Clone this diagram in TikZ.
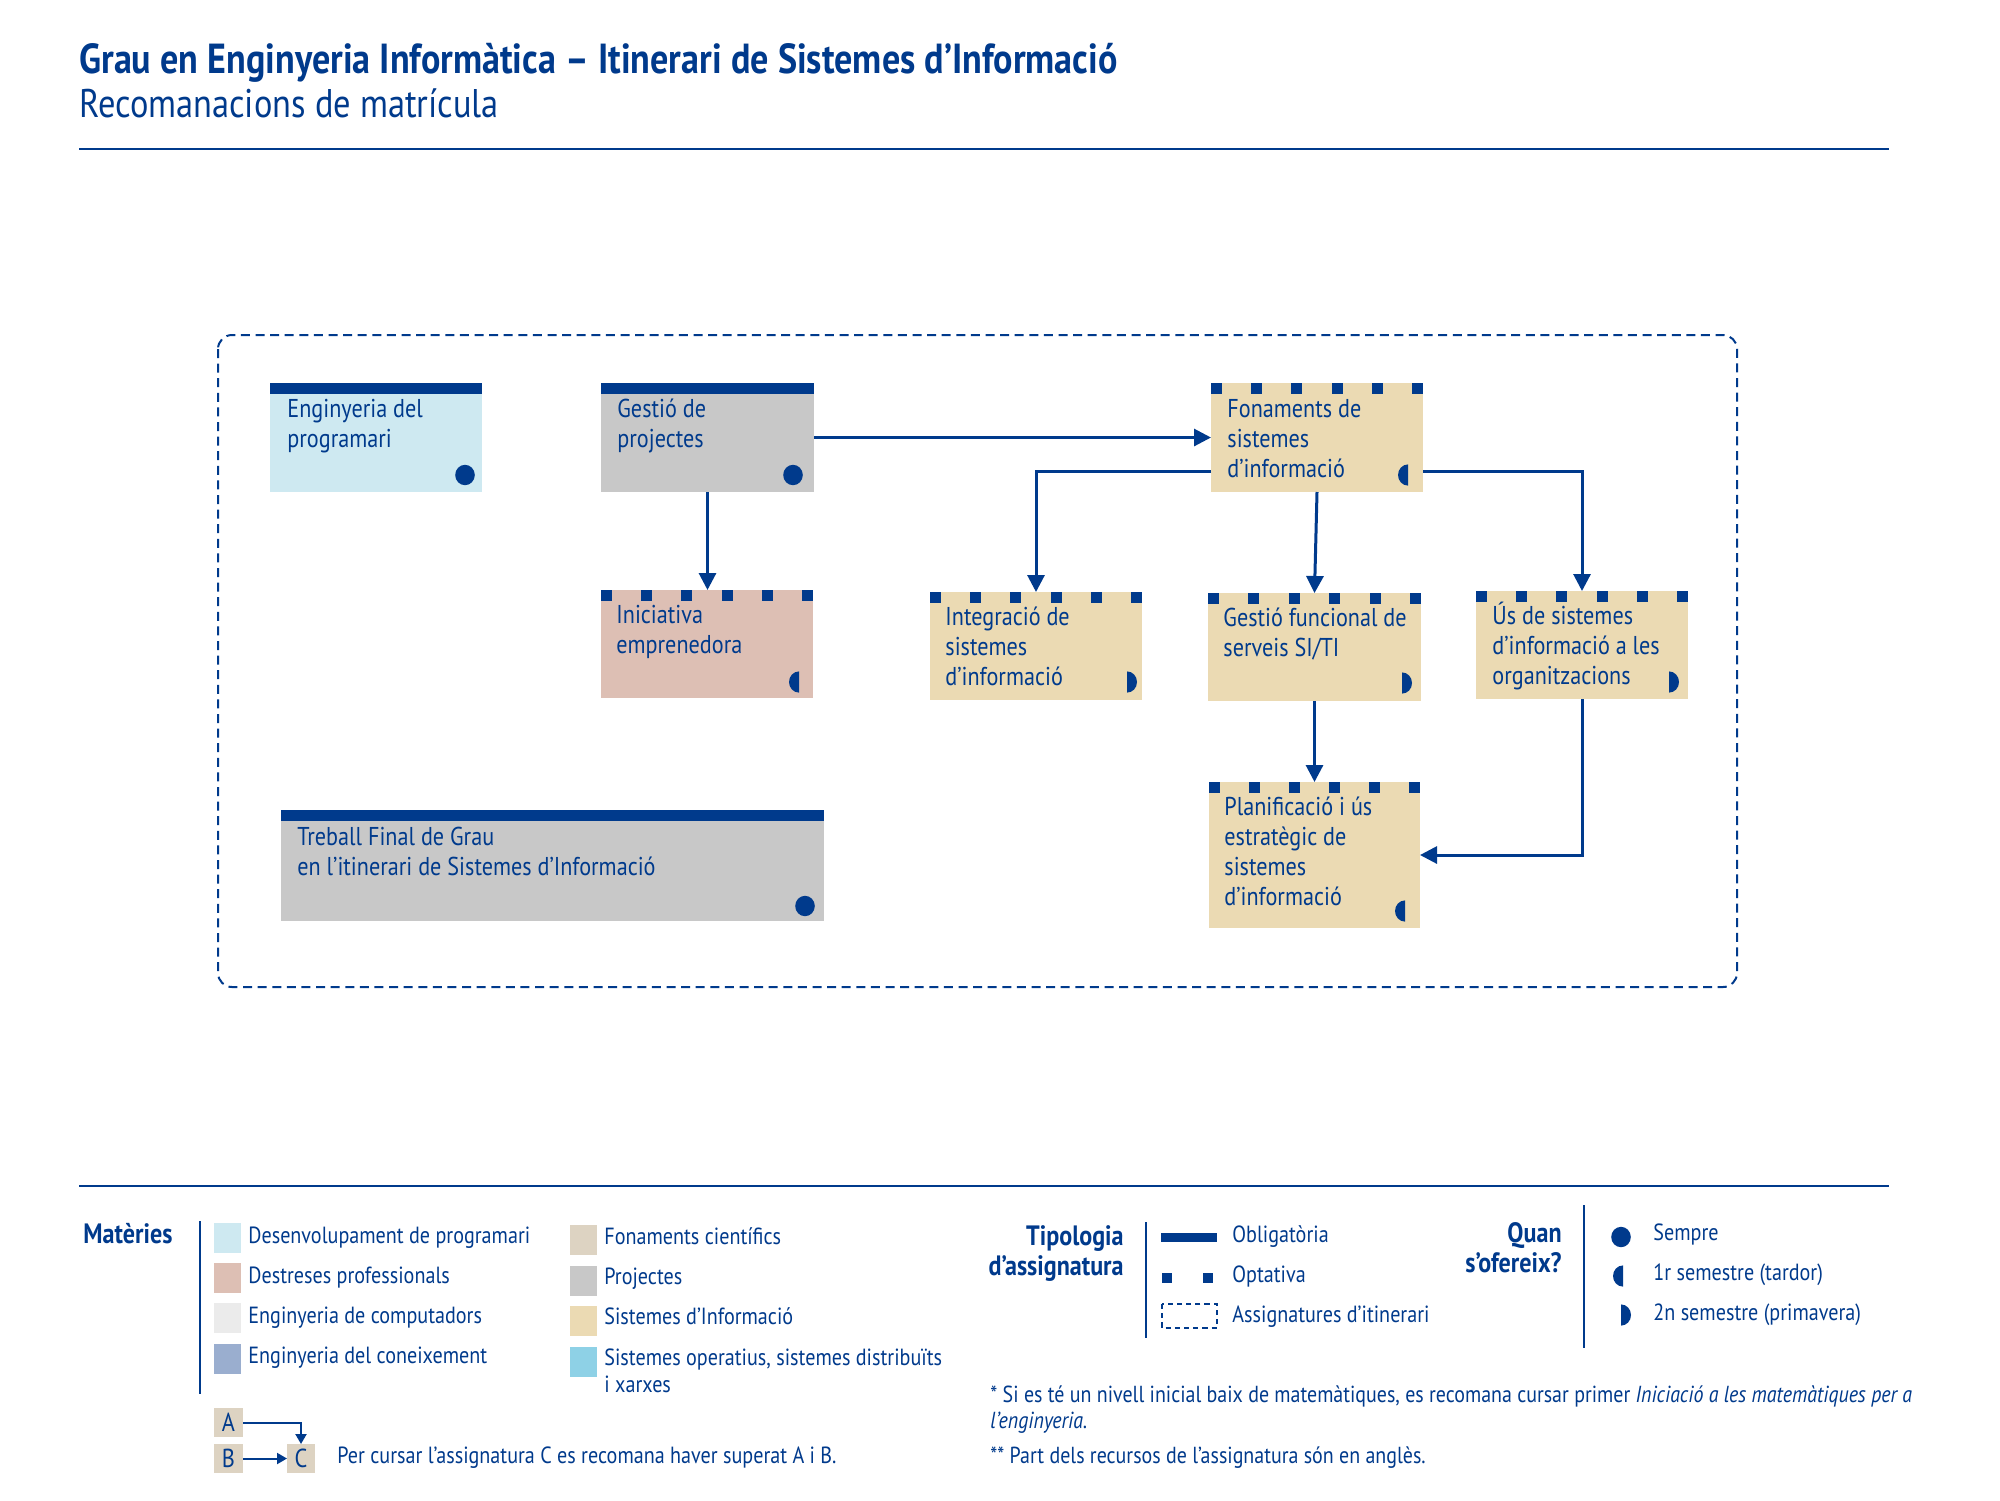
\documentclass[tikz,border=0pt]{standalone}
\usepackage{fontspec}
\setmainfont{PT Sans}[FakeStretch=0.86]
\usetikzlibrary{arrows.meta,calc}
\definecolor{uoc}{RGB}{0,58,140}
\definecolor{cDes}{HTML}{CEE9F1}
\definecolor{cPro}{HTML}{C8C8C8}
\definecolor{cSI}{HTML}{EBDAB3}
\definecolor{cDest}{HTML}{DDBFB4}
\definecolor{cComp}{HTML}{EBEBEB}
\definecolor{cCon}{HTML}{9AAECF}
\definecolor{cFon}{HTML}{DDD3C2}
\definecolor{cSO}{HTML}{8ED1E6}
\tikzset{
  subj/.style={anchor=north west, inner sep=0pt, outer sep=0pt},
  stxt/.style={anchor=base west, inner sep=0pt, text=uoc, font=\fontsize{12.9}{15}\selectfont},
  ltxt/.style={anchor=base west, inner sep=0pt, text=uoc, font=\fontsize{11.7}{13.5}\selectfont},
  lhead/.style={anchor=base east, inner sep=0pt, text=uoc, font=\fontsize{14}{15}\selectfont\bfseries},
  legsq/.style={anchor=north west, inner sep=0pt, outer sep=0pt, minimum width=13.5pt, minimum height=15pt},
  arr/.style={draw=uoc, line width=1.5pt, -{Triangle[length=8.5pt,width=8.5pt]}},
  sarr/.style={draw=uoc, line width=1pt, -{Triangle[length=5pt,width=5.5pt]}},
  rulel/.style={draw=uoc, line width=1.4pt},
  vline/.style={draw=uoc, line width=1pt}
}
\newcommand\mksem[2]{\fill[uoc] (#1,#2) ellipse[x radius=4.9pt,y radius=5.1pt];}
\newcommand\mkone[2]{\fill[uoc] (#1,#2) ++(0,-10.6) arc[start angle=90,end angle=270,x radius=5pt,y radius=5.3pt] -- cycle;}
\newcommand\mktwo[2]{\fill[uoc] (#1,#2) ++(0,-10.6) arc[start angle=90,end angle=-90,x radius=5pt,y radius=5.3pt] -- cycle;}
\newcommand\optbar[3]{\foreach \i in {0,...,5}{\fill[uoc] ({#1+\i*(#3-11)/5},#2) rectangle ++(11,11);}}
\newcommand\oblbar[1]{\fill[uoc] (#1.north west) rectangle ($(#1.north east)+(0,11)$);}
\begin{document}
\begin{tikzpicture}[x=0.5pt,y=-0.5pt]
\useasboundingbox[fill=white] (0,0) rectangle (2000,1500);

% title
\node[anchor=base west, inner sep=0pt, text=uoc, font=\fontsize{21}{24}\selectfont\bfseries] (title) at (79,73) {Grau en Enginyeria Informàtica – Itinerari de Sistemes d’Informació};
\node[anchor=base west, inner sep=0pt, text=uoc, font=\fontsize{20}{24}\selectfont] (subtitle) at (79,117) {Recomanacions de matrícula};
\draw[rulel] (79,149) -- (1889,149);

% itinerary frame
\draw[uoc, line width=1pt, dash pattern=on 4.5pt off 2.8pt, rounded corners=7pt] (218,335) rectangle (1737,987);

% subject boxes
\node[subj, fill=cDes, minimum width=106pt, minimum height=54.5pt] (eng) at (270,383) {};
\node[subj, fill=cPro, minimum width=106.5pt, minimum height=54.5pt] (gp) at (601,383) {};
\node[subj, fill=cSI, minimum width=106pt, minimum height=54.5pt] (fon) at (1211,383) {};
\node[subj, fill=cDest, minimum width=106pt, minimum height=54pt] (ini) at (601,590) {};
\node[subj, fill=cSI, minimum width=106pt, minimum height=54pt] (int) at (930,592) {};
\node[subj, fill=cSI, minimum width=106.5pt, minimum height=54pt] (gfs) at (1208,593) {};
\node[subj, fill=cSI, minimum width=106pt, minimum height=54pt] (us) at (1476,591) {};
\node[subj, fill=cSI, minimum width=105.5pt, minimum height=73pt] (plan) at (1209,782) {};
\node[subj, fill=cPro, minimum width=271.5pt, minimum height=55.5pt] (tfg) at (281,810) {};

\oblbar{eng}
\oblbar{gp}
\oblbar{tfg}
\optbar{1211}{383}{212}
\optbar{601}{590}{212}
\optbar{930}{592}{212}
\optbar{1208}{593}{213}
\optbar{1476}{591}{212}
\optbar{1209}{782}{211}

% texts
\node[stxt] (teng) at ($(eng.north west)+(17,34)$) {\parbox[t]{100pt}{Enginyeria del\\programari}};
\node[stxt] (tgp) at ($(gp.north west)+(16,34)$) {\parbox[t]{100pt}{Gestió de\\projectes}};
\node[stxt] (tfon) at ($(fon.north west)+(16,34)$) {\parbox[t]{100pt}{Fonaments de\\sistemes\\d’informació}};
\node[stxt] (tini) at ($(ini.north west)+(15,33)$) {\parbox[t]{100pt}{Iniciativa\\emprenedora}};
\node[stxt] (tint) at ($(int.north west)+(15,33)$) {\parbox[t]{100pt}{Integració de\\sistemes\\d’informació}};
\node[stxt] (tgfs) at ($(gfs.north west)+(15,33)$) {\parbox[t]{100pt}{Gestió funcional de\\serveis SI/TI}};
\node[stxt] (tus) at ($(us.north west)+(16,33)$) {\parbox[t]{100pt}{Ús de sistemes\\d’informació a les\\organitzacions}};
\node[stxt] (tplan) at ($(plan.north west)+(15,33)$) {\parbox[t]{100pt}{Planificació i ús\\estratègic de\\sistemes\\d’informació}};
\node[stxt] (ttfg) at ($(tfg.north west)+(16,35)$) {\parbox[t]{250pt}{Treball Final de Grau\\en l’itinerari de Sistemes d’Informació}};

% semester markers
\mksem{465}{475}
\mksem{793}{475}
\mksem{805}{906}
\mkone{1408}{475}
\mkone{799}{682}
\mktwo{1127}{682}
\mktwo{1402}{683}
\mktwo{1669}{682}
\mkone{1405}{911}

% connectors
\draw[arr] (gp.east) -- (fon.west);
\draw[arr] (gp.south) -- (gp.south |- ini.north);
\draw[arr] ($(fon.west)+(0,34)$) -| (int.north);
\draw[arr] (fon.south) -- (gfs.north);
\draw[arr] ($(fon.east)+(0,34)$) -| (us.north);
\draw[arr] (gfs.south) -- (plan.north);
\draw[arr] (us.south) |- (plan.east);

% legend
\draw[rulel] (79,1186) -- (1889,1186);
\node[anchor=base west, inner sep=0pt, text=uoc, font=\fontsize{14}{15}\selectfont\bfseries] (lmat) at (83,1243) {Matèries};
\draw[vline] (200,1221) -- (200,1394);

\node[legsq, fill=cDes] (q1) at (214,1223) {};
\node[legsq, fill=cDest] (q2) at (214,1263) {};
\node[legsq, fill=cComp] (q3) at (214,1303) {};
\node[legsq, fill=cCon] (q4) at (214,1344) {};
\node[ltxt] (t1) at (248,1243) {Desenvolupament de programari};
\node[ltxt] (t2) at (248,1283) {Destreses professionals};
\node[ltxt] (t3) at (248,1323) {Enginyeria de computadors};
\node[ltxt] (t4) at (248,1363) {Enginyeria del coneixement};

\node[legsq, fill=cFon] (q5) at (570,1225) {};
\node[legsq, fill=cPro] (q6) at (570,1266) {};
\node[legsq, fill=cSI] (q7) at (570,1306) {};
\node[legsq, fill=cSO] (q8) at (570,1347) {};
\node[ltxt] (t5) at (604,1244) {Fonaments científics};
\node[ltxt] (t6) at (604,1284) {Projectes};
\node[ltxt] (t7) at (604,1324) {Sistemes d’Informació};
\node[ltxt] (t8) at (604,1365) {\parbox[t]{200pt}{Sistemes operatius, sistemes distribuïts\\i xarxes}};

% A B C
\node[legsq, fill=cFon, minimum width=14.5pt, minimum height=14.5pt, text=uoc, font=\fontsize{13}{13}\selectfont] (la) at (214,1408) {A};
\node[legsq, fill=cFon, minimum width=14.5pt, minimum height=14.5pt, text=uoc, font=\fontsize{13}{13}\selectfont] (lb) at (214,1444) {B};
\node[legsq, fill=cFon, minimum width=14pt, minimum height=14.5pt, text=uoc, font=\fontsize{13}{13}\selectfont] (lc) at (287,1444) {C};
\draw[sarr] (la.east) -| (lc.north);
\draw[sarr] (lb.east) -- (lc.west);
\node[ltxt] (tabc) at (337,1463) {Per cursar l’assignatura C es recomana haver superat A i B.};

% tipologia
\node[lhead] (ltip) at (1124,1245) {\parbox[t]{130pt}{\raggedleft Tipologia\\d’assignatura}};
\draw[vline] (1146,1222) -- (1146,1338);
\fill[uoc] (1161,1233) rectangle (1217,1242);
\fill[uoc] (1162,1273) rectangle (1172,1283);
\fill[uoc] (1203,1273) rectangle (1213,1283);
\draw[uoc, line width=0.8pt, dash pattern=on 2.6pt off 2pt] (1162,1304) rectangle (1217,1328);
\node[ltxt] (tob) at (1232,1242) {Obligatòria};
\node[ltxt] (top) at (1232,1282) {Optativa};
\node[ltxt] (tit) at (1232,1322) {Assignatures d’itinerari};

% quan
\node[lhead] (lquan) at (1562,1242) {\parbox[t]{130pt}{\raggedleft Quan\\s’ofereix?}};
\draw[vline] (1584,1205) -- (1584,1348);
\mksem{1621}{1237}
\mkone{1623}{1276}
\mktwo{1621}{1315}
\node[ltxt] (ts1) at (1653,1240) {Sempre};
\node[ltxt] (ts2) at (1653,1280) {1r semestre (tardor)};
\node[ltxt] (ts3) at (1653,1320) {2n semestre (primavera)};

% footnotes
\node[anchor=base west, inner sep=0pt, text=uoc, font=\fontsize{11.6}{13}\selectfont] (fn1) at (990,1402) {\parbox[t]{490pt}{* Si es té un nivell inicial baix de matemàtiques, es recomana cursar primer \textit{Iniciació a les matemàtiques per a}\\\textit{l’enginyeria.}}};
\node[anchor=base west, inner sep=0pt, text=uoc, font=\fontsize{11.6}{13}\selectfont] (fn2) at (990,1463) {** Part dels recursos de l’assignatura són en anglès.};
\end{tikzpicture}
\end{document}
